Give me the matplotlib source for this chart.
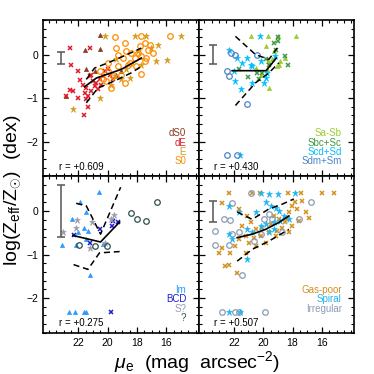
import matplotlib
matplotlib.use("Agg")
import matplotlib.pyplot as plt
from matplotlib.ticker import MultipleLocator

plt.rcParams['font.family'] = ['Liberation Sans', 'DejaVu Sans']
plt.rcParams['mathtext.fontset'] = 'custom'
plt.rcParams['mathtext.rm'] = 'Liberation Sans'
plt.rcParams['mathtext.it'] = 'Liberation Sans:italic'

# ---- top left: early types ----
dS0_mu = [20.55, 21.57, 20.55, 21.45, 22.82, 19.41, 20.89, 19.07]
dS0_z = [0.44, 0.10, 0.13, -0.34, -0.96, -0.46, -0.38, -0.38]
dE_mu = [22.59, 21.23, 22.48, 22.02, 21.91, 21.68, 22.59, 22.36, 22.82, 22.02,
         21.45, 21.57, 21.34, 21.61, 21.34, 21.11, 21.00, 20.89, 20.77, 20.55,
         20.32, 20.20, 19.98, 21.23, 20.66, 21.11, 21.45, 19.86, 19.64, 20.43]
dE_z = [0.15, 0.15, -0.23, -0.38, -0.575, -0.69, -0.82, -0.84, -0.96, -1.00,
        -0.77, -0.88, -0.96, -1.38, -1.20, -0.46, -0.61, -0.73, -0.65, -0.57,
        -0.50, -0.38, -0.34, -0.50, -0.80, -0.84, -1.03, -0.46, -0.57, -0.69]
E_mu = [20.2, 18.16, 17.36, 14.98, 16.68, 15.93, 17.7, 18.73, 19.52, 22.36,
        20.55, 19.07, 18.5, 17.93, 17.02, 16.57, 19.41, 19.75]
E_z = [0.42, 0.42, 0.42, 0.42, -0.15, -0.13, -0.23, -0.34, -0.50, -1.25,
       -1.00, -0.57, -0.54, 0.08, 0.15, 0.23, -0.11, -0.69]
S0_mu = [15.77, 17.7, 19.52, 18.84, 19.41, 17.82, 17.48, 17.14, 18.39, 19.3,
         18.95, 18.16, 17.7, 17.36, 19.3, 18.61, 18.05, 17.48, 19.98, 19.64,
         19.07, 17.7, 19.75, 20.09, 18.84, 18.5, 17.25, 16.91, 17.93, 18.73,
         19.98, 20.55, 20.32]
S0_z = [0.42, 0.42, 0.41, 0.27, 0.15, 0.19, 0.27, 0.23, 0.04, 0.0,
        -0.08, -0.08, -0.04, -0.08, -0.27, -0.23, -0.27, -0.15, -0.38, -0.50,
        -0.46, -0.44, -0.77, -0.61, -0.65, -0.19, 0.11, 0.04, 0.04, 0.08,
        -0.19, -0.38, -0.57]
tl_med_mu = [21.57, 20.77, 19.75, 19.07, 17.7]
tl_med_z = [-0.74, -0.54, -0.42, -0.34, -0.08]
tl_hi_mu = [21.45, 20.89, 19.98, 18.95, 17.7]
tl_hi_z = [-0.57, -0.31, -0.19, -0.04, 0.15]
tl_lo_mu = [21.45, 20.66, 19.3, 18.39, 17.7]
tl_lo_z = [-1.11, -0.77, -0.57, -0.42, -0.27]

# ---- top right: spirals ----
SaSb_mu = [20.82, 19.68, 18.98, 17.75, 19.84, 19.27, 19.66, 19.39, 18.86, 18.48,
           19.73, 19.05, 19.61, 20.18, 20.52, 18.89]
SaSb_z = [0.42, 0.42, 0.42, 0.42, 0.19, 0.08, -0.15, -0.11, -0.14, -0.08,
          -0.34, -0.27, -0.77, -0.46, -0.31, -0.25]
SbcSc_mu = [18.98, 19.27, 18.98, 19.11, 18.48, 18.34, 21.66, 21.02, 20.41, 20.11,
            20.3, 19.84, 19.61]
SbcSc_z = [0.41, 0.27, 0.32, 0.11, -0.04, -0.23, -0.34, -0.52, -0.42, -0.42,
           -0.57, -0.11, -0.23]
ScdSd_mu = [20.25, 22.3, 21.77, 21.09, 20.86, 20.75, 21.43, 22.0, 21.89, 21.48,
            20.75, 20.18, 19.73, 19.95, 19.84, 19.2, 21.55]
ScdSd_z = [0.42, 0.11, -0.08, -0.08, -0.23, -0.27, -0.19, -0.37, -0.60, -0.79,
           -0.65, -0.15, -0.42, -0.65, -0.54, -0.04, -2.30]
SdmSm_mu = [22.18, 21.93, 20.45, 22.45, 22.34, 21.09, 22.45, 21.77]
SdmSm_z = [0.04, -0.02, 0.0, -0.38, -0.50, -1.13, -2.31, -2.31]
tr_med_mu = [22.11, 19.8, 19.11]
tr_med_z = [-0.37, -0.37, -0.08]
tr_hi_mu = [21.89, 20.52, 19.61, 19.05]
tr_hi_z = [0.42, 0.0, -0.11, 0.15]
tr_lo_mu = [21.89, 20.52, 19.61, 18.93]
tr_lo_z = [-1.17, -0.65, -0.42, -0.19]

# ---- bottom left: irregulars ----
Im_mu = [20.59, 21.91, 21.45, 22.43, 21.61, 21.34, 22.02, 23.09, 22.14, 21.45,
         20.32, 21.23, 22.64, 22.25, 21.61, 21.45]
Im_z = [0.43, 0.20, -0.03, -0.19, -0.38, -0.46, -0.49, -0.79, -0.79, -0.63,
        -0.76, -1.46, -2.31, -2.31, -2.31, -2.31]
BCD_mu = [22.32, 21.18, 20.55, 19.64, 19.68, 19.3, 19.75]
BCD_z = [-0.55, -0.73, -0.40, -0.22, -0.34, -0.26, -2.33]
Sq_mu = [23.05, 22.09, 22.18, 21.07, 19.57, 19.75, 21.23, 20.2]
Sq_z = [-0.48, -0.20, -0.39, -0.26, -0.09, -0.19, -0.84, -0.73]
Q_mu = [16.61, 18.39, 17.98, 17.39, 21.95, 20.84, 20.02]
Q_z = [0.20, -0.05, -0.19, -0.22, -0.77, -0.80, -0.80]
bl_med_mu = [22.36, 20.48, 19.18]
bl_med_z = [-0.56, -0.71, -0.25]
bl_hi_mu = [22.14, 21.45, 20.48, 19.11]
bl_hi_z = [0.18, 0.12, -0.53, 0.55]
bl_lo_mu = [22.32, 21.34, 20.55, 19.18]
bl_lo_z = [-1.23, -1.34, -0.96, -0.93]

# ---- bottom right: all ----
gp_mu = [22.34, 20.75, 20.25, 18.3, 17.45, 15.98, 15.18, 22.8, 21.66, 21.09,
         21.43, 20.86, 20.52, 20.07, 19.5, 18.93, 18.25, 17.8, 17.34, 17.11,
         16.89, 18.02, 18.48, 19.16, 19.84, 20.52, 21.2, 21.89, 22.8, 22.98,
         22.23, 22.57, 22.34, 21.77, 21.66, 21.2, 20.64, 20.18, 19.61, 19.05,
         18.7, 18.36, 18.02, 17.68, 17.57, 18.25, 20.98, 19.27]
gp_z = [0.41, 0.41, 0.41, 0.41, 0.41, 0.41, 0.41, 0.18, 0.05, -0.11,
        -0.34, -0.26, -0.42, -0.38, -0.30, -0.19, -0.03, 0.20, 0.24, -0.03,
        -0.15, -0.34, -0.26, -0.57, -0.73, -0.80, -0.96, -0.80, -0.84, -0.96,
        -0.96, -1.27, -1.23, -1.42, -0.65, -0.57, -0.61, -0.57, -0.49, -0.46,
        -0.38, -0.19, 0.12, 0.05, -0.22, -0.49, -0.73, -0.11]
sp_mu = [20.18, 19.61, 18.98, 17.8, 22.34, 21.66, 20.52, 19.84, 19.5, 19.16,
         18.93, 18.59, 18.82, 19.27, 19.84, 20.18, 20.75, 21.09, 19.27, 19.61,
         22.34, 22.11, 21.09, 18.25, 22.34, 21.55]
sp_z = [0.41, 0.39, 0.39, 0.41, 0.11, -0.03, -0.02, 0.20, 0.12, 0.08,
        0.01, -0.11, -0.22, -0.26, -0.30, -0.34, -0.49, -0.42, -0.42, -0.49,
        -0.53, -0.65, -1.11, -0.19, -2.31, -2.31]
irr_mu = [20.86, 22.11, 23.25, 23.3, 22.68, 22.23, 22.34, 22.11, 21.66, 21.43,
          22.8, 21.89, 21.66, 19.89, 19.95, 19.39, 18.7, 17.57, 16.77, 20.18,
          20.64, 19.61]
irr_z = [0.41, 0.18, -0.46, -0.79, -0.19, -0.20, -0.79, -0.53, -0.49, -1.46,
         -2.31, -2.31, -2.31, -2.31, -0.19, -0.19, -0.49, -0.19, 0.20, -0.53,
         -0.69, -0.07]
br_med_mu = [21.77, 20.75, 19.84, 18.93, 18.25]
br_med_z = [-0.61, -0.53, -0.42, -0.26, -0.11]
br_hi_mu = [21.77, 20.75, 19.61, 18.7, 17.91]
br_hi_z = [-0.02, -0.19, 0.05, 0.16, 0.28]
br_lo_mu = [21.77, 20.75, 19.61, 18.25]
br_lo_z = [-1.15, -0.88, -0.69, -0.42]

# error bar (mu, z, half-length) and correlation coefficients
err_bars = [(23.2, -0.07, 0.14), (23.4, 0.0, 0.22), (23.2, 0.0, 0.6), (23.4, 0.0, 0.24)]
r_values = ['+0.609', '+0.430', '+0.275', '+0.507']
x_ticks = [22, 20, 18, 16]


def tri(ax, x, y, c):
    ax.plot(x, y, '^', ls='none', ms=3.0, mfc=c, mec=c, mew=0.5)


def cross(ax, x, y, c):
    ax.plot(x, y, 'x', ls='none', ms=3.0, mec=c, mew=1.1)


def star(ax, x, y, c):
    ax.plot(x, y, '*', ls='none', ms=4.8, mfc=c, mec=c, mew=0.4)


def circ(ax, x, y, c):
    ax.plot(x, y, 'o', ls='none', ms=4.0, mfc='none', mec=c, mew=0.9)


def lines(ax, med, hi, lo):
    ax.plot(*med, color='black', lw=1.2)
    ax.plot(*hi, color='black', lw=1.1, ls=(0, (4, 2.5)))
    ax.plot(*lo, color='black', lw=1.1, ls=(0, (4, 2.5)))


def legend(ax, labels, colors):
    for i, (lab, col) in enumerate(zip(labels, colors)):
        ax.text(0.92, 0.275 - i * 0.06, lab, color=col, fontsize=7,
                ha='right', va='center', transform=ax.transAxes)


fig, axes = plt.subplots(2, 2, figsize=(3.74, 3.74), dpi=100, sharex=True, sharey=True)
fig.subplots_adjust(left=0.115, right=0.947, top=0.947, bottom=0.110, wspace=0, hspace=0)

# top left
ax = axes[0, 0]
tri(ax, dS0_mu, dS0_z, '#8B3A22')
cross(ax, dE_mu, dE_z, '#DD1C2A')
star(ax, E_mu, E_z, '#D49A1A')
circ(ax, S0_mu, S0_z, '#FF8C00')
lines(ax, (tl_med_mu, tl_med_z), (tl_hi_mu, tl_hi_z), (tl_lo_mu, tl_lo_z))
legend(ax, ['dS0', 'dE', 'E', 'S0'], ['#8B3A22', '#DD1C2A', '#D49A1A', '#FF8C00'])

# top right
ax = axes[0, 1]
tri(ax, SaSb_mu, SaSb_z, '#9ACD32')
cross(ax, SbcSc_mu, SbcSc_z, '#3C9A3C')
star(ax, ScdSd_mu, ScdSd_z, '#00BFFF')
circ(ax, SdmSm_mu, SdmSm_z, '#4A86C8')
lines(ax, (tr_med_mu, tr_med_z), (tr_hi_mu, tr_hi_z), (tr_lo_mu, tr_lo_z))
legend(ax, ['Sa-Sb', 'Sbc+Sc', 'Scd+Sd', 'Sdm+Sm'], ['#9ACD32', '#3C9A3C', '#00BFFF', '#4A86C8'])

# bottom left
ax = axes[1, 0]
tri(ax, Im_mu, Im_z, '#2E9AFE')
cross(ax, BCD_mu, BCD_z, '#1C1CC8')
star(ax, Sq_mu, Sq_z, '#9A9AAE')
circ(ax, Q_mu, Q_z, '#2F4F4F')
lines(ax, (bl_med_mu, bl_med_z), (bl_hi_mu, bl_hi_z), (bl_lo_mu, bl_lo_z))
legend(ax, ['Im', 'BCD', 'S?', '?'], ['#2E9AFE', '#1C1CC8', '#9A9AAE', '#2F4F4F'])

# bottom right
ax = axes[1, 1]
cross(ax, gp_mu, gp_z, '#D4901C')
circ(ax, irr_mu, irr_z, '#8C9CB4')
star(ax, sp_mu, sp_z, '#1EB4F0')
lines(ax, (br_med_mu, br_med_z), (br_hi_mu, br_hi_z), (br_lo_mu, br_lo_z))
legend(ax, ['Gas-poor', 'Spiral', 'Irregular'], ['#D4901C', '#1EB4F0', '#8C9CB4'])

for ax, (ex, ey, eh), r in zip(axes.flat, err_bars, r_values):
    ax.errorbar([ex], [ey], yerr=[eh], fmt='none', ecolor='#555555', elinewidth=1.1,
                capsize=3, capthick=1.1)
    ax.text(0.1, 0.06, 'r = ' + r, fontsize=7, ha='left', va='center', transform=ax.transAxes)
    ax.set_xlim(24.4, 13.8)
    ax.set_ylim(-2.8, 0.8)
    ax.set_xticks(x_ticks)
    ax.xaxis.set_minor_locator(MultipleLocator(0.5))
    ax.yaxis.set_major_locator(MultipleLocator(1))
    ax.yaxis.set_minor_locator(MultipleLocator(0.2))
    ax.tick_params(which='both', direction='in', top=True, right=True, labelsize=7.5)
    ax.tick_params(which='major', length=4, width=0.9)
    ax.tick_params(which='minor', length=2.2, width=0.8)
    for s in ax.spines.values():
        s.set_linewidth(1.2)

fig.text(0.527, 0.032, r'$\mu_{\rm e}$  (mag  arcsec$^{-2}$)', fontsize=14, ha='center', va='center')
fig.text(0.035, 0.49, r'log(Z$_{\rm eff}$/Z$_{\odot}$)  (dex)', fontsize=14, rotation=90,
         ha='center', va='center')

fig.savefig('out.png', dpi=100)
